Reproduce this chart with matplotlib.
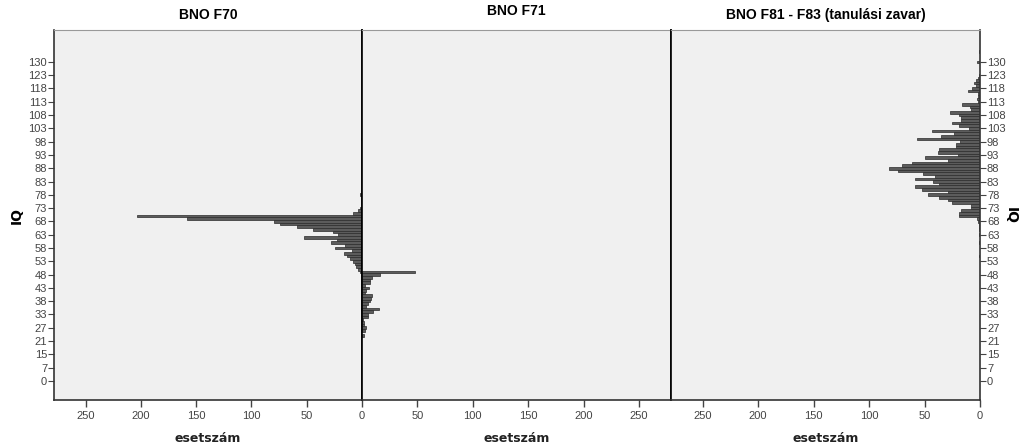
import matplotlib.pyplot as plt

# IQ categories (only observed values, as in the SPSS chart)
iq_values = [0, 1, 2, 4, 5, 7, 8, 10, 11, 13, 15, 16, 17, 18, 19, 21,
             22, 23, 24, 25, 27, 28, 29, 30, 32] + list(range(33, 124)) + \
            [124, 125, 126, 128, 130, 131, 132, 133, 135]

# case counts per IQ value
f70_counts = {99: 1, 78: 2, 73: 2, 72: 4, 71: 8, 70: 203, 69: 158, 68: 80,
              67: 74, 66: 59, 65: 44, 64: 26, 63: 22, 62: 52, 61: 23, 60: 28,
              59: 15, 58: 24, 57: 9, 56: 16, 55: 14, 54: 11, 53: 8, 52: 6,
              51: 5, 50: 4, 49: 2, 35: 1}
f71_counts = {49: 48, 48: 16, 47: 9, 46: 7, 45: 7, 44: 3, 43: 6, 42: 4,
              41: 3, 40: 9, 39: 8, 38: 7, 37: 5, 36: 4, 35: 15, 34: 10,
              33: 5, 32: 5, 30: 1, 29: 2, 28: 2, 27: 4, 25: 3, 23: 2}
f81_counts = {135: 1, 130: 3, 123: 1, 122: 2, 121: 4, 120: 5, 119: 4, 118: 7,
              117: 11, 116: 2, 115: 2, 114: 3, 113: 2, 112: 16, 111: 9, 110: 8,
              109: 27, 108: 19, 107: 17, 106: 17, 105: 25, 104: 19, 103: 10,
              102: 43, 101: 23, 100: 35, 99: 57, 98: 18, 97: 22, 96: 22, 95: 37,
              94: 38, 93: 20, 92: 50, 91: 29, 90: 61, 89: 70, 88: 82, 87: 74,
              86: 51, 85: 41, 84: 59, 83: 42, 82: 37, 81: 59, 80: 52, 79: 29,
              78: 47, 77: 37, 76: 29, 75: 25, 74: 8, 73: 8, 72: 17, 71: 19,
              70: 19, 69: 3, 68: 2, 67: 1, 66: 1, 65: 1, 63: 1, 60: 1, 55: 1}

titles = ['BNO F70', 'BNO F71', 'BNO F81 - F83 (tanulási zavar)']
xlabel = 'esetszám'
ylabel = 'IQ'

pos = {v: i for i, v in enumerate(iq_values)}
label_idx = list(range(0, 121, 5))
label_txt = [str(iq_values[i]) for i in label_idx]

fig = plt.figure(figsize=(10.31, 4.46), dpi=100)
boxes = [[54 / 1031, 46 / 446, 308 / 1031, 370 / 446],
         [362 / 1031, 46 / 446, 309 / 1031, 370 / 446],
         [671 / 1031, 46 / 446, 309 / 1031, 370 / 446]]
data = [f70_counts, f71_counts, f81_counts]
title_pads = [8, 11, 8]

tick_font = dict(fontsize=8, color='#444444', family='Liberation Sans')

for k, (box, counts, title) in enumerate(zip(boxes, data, titles)):
    ax = fig.add_axes(box)
    ax.set_facecolor('#f0f0f0')
    ys = [pos[v] for v in counts]
    ax.barh(ys, list(counts.values()), height=1.0, color='#5c5c5c',
            edgecolor='#2b2b2b', linewidth=0.5)
    ax.set_ylim(-7.2, 132)
    if k == 1:
        ax.set_xlim(0, 279)
        ax.set_xticks([50, 100, 150, 200, 250])
    else:
        ax.set_xlim(278.5, 0)
        ax.set_xticks([250, 200, 150, 100, 50, 0])
    ax.set_xticklabels([str(t) for t in ax.get_xticks().astype(int)], **tick_font)
    ax.tick_params(axis='x', length=5, width=1, color='#444444', pad=3)

    for s in ax.spines.values():
        s.set_color('#999999')
        s.set_linewidth(0.8)
    ax.spines['bottom'].set_color('#333333')
    ax.spines['bottom'].set_linewidth(1.2)

    if k == 0:
        ax.set_yticks(label_idx)
        ax.set_yticklabels(label_txt, **tick_font)
        ax.tick_params(axis='y', length=4, color='#444444', pad=1)
        ax.spines['left'].set_color('#333333')
        ax.spines['left'].set_linewidth(1.2)
        ax.spines['right'].set_color('black')
        ax.spines['right'].set_linewidth(1.2)
        ax.set_ylabel(ylabel, fontsize=10, fontweight='bold', labelpad=3)
    elif k == 2:
        ax.yaxis.tick_right()
        ax.set_yticks(label_idx)
        ax.set_yticklabels(label_txt, **tick_font)
        ax.tick_params(axis='y', length=4, color='#444444', pad=1)
        ax.spines['right'].set_color('#333333')
        ax.spines['right'].set_linewidth(1.2)
        ax.spines['left'].set_color('black')
        ax.spines['left'].set_linewidth(1.2)
        ax.yaxis.set_label_position('right')
        ax.set_ylabel(ylabel, fontsize=10, fontweight='bold', rotation=270,
                      labelpad=9)
    else:
        ax.set_yticks([])
        ax.spines['left'].set_color('black')
        ax.spines['right'].set_color('black')
        ax.spines['left'].set_linewidth(1.2)
        ax.spines['right'].set_linewidth(1.2)

    ax.set_title(title, fontsize=10, fontweight='bold', pad=title_pads[k],
                 family=['Liberation Sans Narrow', 'Liberation Sans'])
    ax.set_xlabel(xlabel, fontsize=9, fontweight='bold', color='#222222',
                  family='DejaVu Sans', labelpad=8)

fig.savefig('out.png', dpi=100)
